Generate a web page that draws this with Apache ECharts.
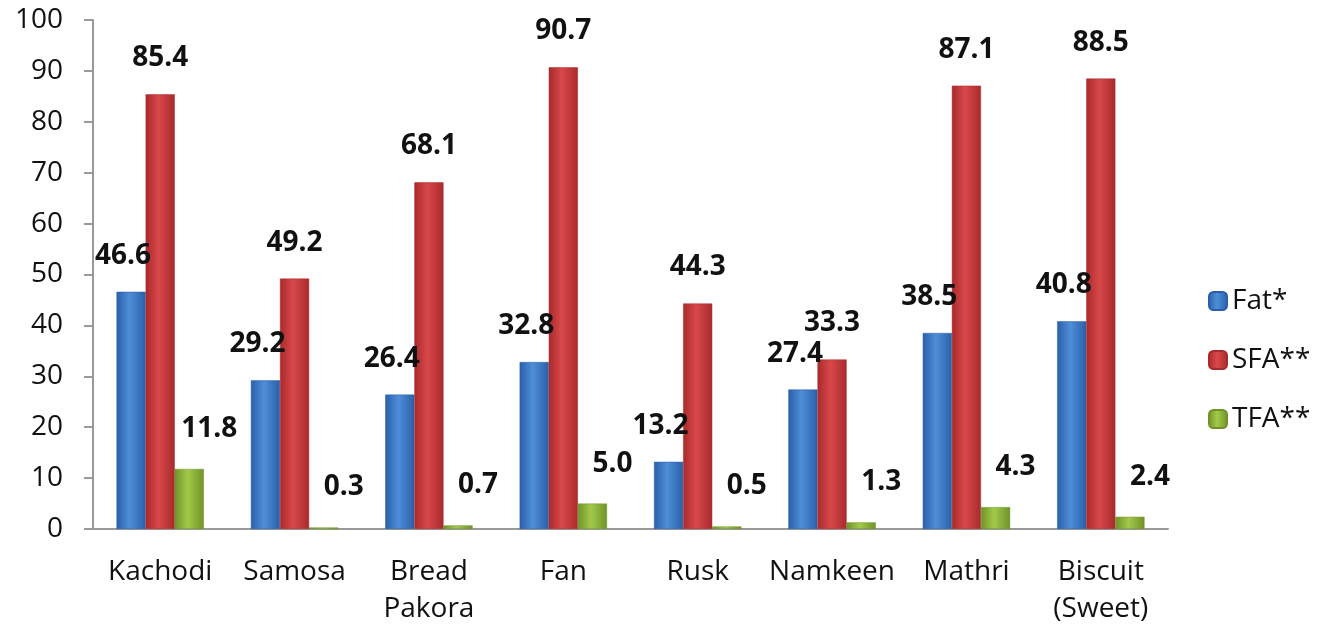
<!DOCTYPE html>
<html>
<head>
<meta charset="utf-8">
<script src="https://cdn.jsdelivr.net/npm/echarts@6/dist/echarts.min.js"></script>
<style>
  html, body { margin: 0; padding: 0; background: #fff; }
  #chart { width: 1334px; height: 633px; }
</style>
</head>
<body>
<div id="chart"></div>
<script>
var categories = ['Kachodi', 'Samosa', 'Bread\nPakora', 'Fan', 'Rusk', 'Namkeen', 'Mathri', 'Biscuit\n(Sweet)'];
var fatValues = [46.6, 29.2, 26.4, 32.8, 13.2, 27.4, 38.5, 40.8];
var sfaValues = [85.4, 49.2, 68.1, 90.7, 44.3, 33.3, 87.1, 88.5];
var tfaValues = [11.8, 0.3, 0.7, 5.0, 0.5, 1.3, 4.3, 2.4];
var yTicks = { min: 0, max: 100, interval: 10 };

function barFill(dark, light) {
  return new echarts.graphic.LinearGradient(0, 0, 1, 0, [
    { offset: 0, color: dark },
    { offset: 0.45, color: light },
    { offset: 1, color: dark }
  ]);
}

// labels sit a bit off-centre like the original excel chart
function makeSeries(name, data, dark, light, dx, dist) {
  return {
    name: name,
    type: 'bar',
    data: data,
    barGap: '0%',
    barCategoryGap: '35%',
    itemStyle: {
      color: barFill(dark, light),
      borderColor: dark,
      borderWidth: 0.5
    },
    label: {
      show: true,
      position: 'top',
      distance: dist,
      offset: [dx, 0],
      formatter: function (p) { return p.value.toFixed(1); },
      fontFamily: 'Open Sans',
      fontWeight: 'bold',
      fontSize: 28,
      color: '#111'
    }
  };
}

var myChart = echarts.init(document.getElementById('chart'));
var option = {
  backgroundColor: '#fff',
  animation: false,
  grid: { left: 93, right: 166, top: 20, bottom: 104 },
  legend: {
    orient: 'vertical',
    left: 1203,
    top: 282,
    itemWidth: 18,
    itemHeight: 18,
    itemGap: 31,
    textStyle: { fontFamily: 'Open Sans', fontSize: 28, color: '#111' },
    data: ['Fat*', 'SFA**', 'TFA**']
  },
  xAxis: {
    type: 'category',
    data: categories,
    axisLine: { lineStyle: { color: '#999', width: 2 } },
    axisTick: { show: false },
    axisLabel: {
      interval: 0,
      fontFamily: 'Open Sans',
      fontSize: 28,
      color: '#111',
      margin: 25,
      lineHeight: 37
    }
  },
  yAxis: {
    type: 'value',
    min: yTicks.min,
    max: yTicks.max,
    interval: yTicks.interval,
    splitLine: { show: false },
    axisLine: { show: true, lineStyle: { color: '#999', width: 2 } },
    axisTick: { show: true, length: 9, lineStyle: { color: '#999', width: 2 } },
    axisLabel: {
      fontFamily: 'Open Sans',
      fontSize: 28,
      color: '#111',
      margin: 30
    }
  },
  series: [
    makeSeries('Fat*', fatValues, '#2a5fa8', '#4f8ed8', -8, 22),
    makeSeries('SFA**', sfaValues, '#a82a2c', '#d9484a', 0, 22),
    makeSeries('TFA**', tfaValues, '#6f9228', '#a3c94a', 20, 26)
  ]
};
myChart.setOption(option, true);
</script>
</body>
</html>
